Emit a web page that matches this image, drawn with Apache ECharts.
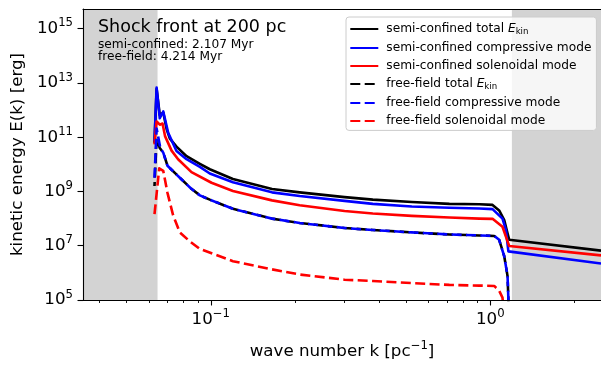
<!DOCTYPE html>
<html>
<head>
<meta charset="utf-8">
<script src="https://cdn.jsdelivr.net/npm/echarts@6/dist/echarts.min.js"></script>
<style>
  html, body { margin: 0; padding: 0; background: #fff; }
  #main { width: 601px; height: 365px; }
</style>
</head>
<body>
<div id="main"></div>
<script>
// wave number k [pc^-1] and E(k) [erg]
const kScTotal = [0.0629, 0.0640, 0.0657, 0.0676, 0.0695, 0.0714, 0.0754, 0.0819, 0.0914, 0.0992, 0.120, 0.1656, 0.208, 0.301, 0.380, 0.524, 0.714, 0.914, 1.019, 1.076, 1.122, 1.153, 1.169, 2.49];
const eScTotal = [6.2e10, 6.0e12, 6.6e11, 8.1e11, 2.0e11, 8.9e10, 4.5e10, 2.0e10, 1.05e10, 6.6e9, 2.9e9, 1.23e9, 9.3e8, 6.2e8, 5.0e8, 4.1e8, 3.5e8, 3.4e8, 3.2e8, 2.0e8, 8.9e7, 2.9e7, 1.66e7, 6.6e6];

const kScComp = [0.0629, 0.0640, 0.0657, 0.0676, 0.0704, 0.0754, 0.0819, 0.0914, 0.0992, 0.120, 0.1656, 0.208, 0.301, 0.380, 0.524, 0.714, 0.914, 1.019, 1.106, 1.138, 1.161, 1.176, 2.49];
const eScComp = [7.1e10, 6.8e12, 5.0e11, 8.9e11, 1.45e11, 3.1e10, 1.55e10, 8.1e9, 4.6e9, 2.2e9, 9.3e8, 6.8e8, 4.5e8, 3.5e8, 2.8e8, 2.5e8, 2.35e8, 2.24e8, 1.0e8, 3.8e7, 6.2e6, 5.8e6, 2.2e6];

const kScSol = [0.0629, 0.0640, 0.0657, 0.0672, 0.0686, 0.0724, 0.0764, 0.0853, 0.1006, 0.120, 0.1656, 0.208, 0.301, 0.380, 0.524, 0.714, 0.914, 1.019, 1.106, 1.153, 1.169, 2.49];
const eScSol = [5.4e10, 3.8e11, 2.9e11, 3.2e11, 1.1e11, 3.2e10, 1.55e10, 5.2e9, 2.1e9, 1.05e9, 4.7e8, 3.1e8, 1.9e8, 1.55e8, 1.26e8, 1.1e8, 1.0e8, 9.8e7, 5.0e7, 1.45e7, 9.8e6, 4.4e6];

const kFfTotal = [0.0629, 0.0640, 0.0657, 0.0676, 0.0700, 0.0775, 0.0848, 0.0914, 0.0992, 0.120, 0.1656, 0.208, 0.301, 0.380, 0.524, 0.714, 0.914, 1.033, 1.076, 1.122, 1.153, 1.161, 1.165];
const eFfTotal = [1.6e9, 8.9e10, 4.0e10, 2.7e10, 8.9e9, 3.2e9, 1.32e9, 7.2e8, 5.0e8, 2.3e8, 1.0e8, 6.9e7, 4.5e7, 3.8e7, 3.1e7, 2.6e7, 2.4e7, 2.3e7, 1.66e7, 4.1e6, 7.6e5, 1.1e5, 1e3];

const kFfComp = [0.0629, 0.0640, 0.0660, 0.0676, 0.0700, 0.0775, 0.0848, 0.0914, 0.0992, 0.120, 0.1656, 0.208, 0.301, 0.380, 0.524, 0.714, 0.914, 1.033, 1.076, 1.122, 1.153, 1.161, 1.165];
const eFfComp = [3.2e9, 2.1e11, 4.0e10, 2.7e10, 8.9e9, 3.2e9, 1.32e9, 7.2e8, 5.0e8, 2.3e8, 1.0e8, 6.9e7, 4.5e7, 3.8e7, 3.1e7, 2.6e7, 2.4e7, 2.3e7, 1.66e7, 4.1e6, 7.6e5, 1.1e5, 1e3];

const kFfSol = [0.0629, 0.0654, 0.0676, 0.0700, 0.0733, 0.0775, 0.0841, 0.0914, 0.120, 0.1656, 0.208, 0.301, 0.380, 0.524, 0.714, 0.914, 1.033, 1.076, 1.106, 1.118];
const eFfSol = [1.45e8, 7.1e9, 5.8e9, 8.9e8, 1.35e8, 3.1e7, 1.45e7, 7.6e6, 2.7e6, 1.35e6, 8.7e5, 5.6e5, 5.0e5, 4.2e5, 3.6e5, 3.4e5, 3.3e5, 2.2e5, 1.23e5, 3.2e4];

const seriesNames = [
  'semi-confined total Ekin',
  'semi-confined compressive mode',
  'semi-confined solenoidal mode',
  'free-field total Ekin',
  'free-field compressive mode',
  'free-field solenoidal mode'
];

// shaded (excluded) k ranges
const shadeLeft = [0.0349, 0.0645];
const shadeRight = [1.195, 2.49];

const xTicksMajor = [0.1, 1];
const xTicksMinor = [0.04, 0.05, 0.06, 0.07, 0.08, 0.09, 0.2, 0.3, 0.4, 0.5, 0.6, 0.7, 0.8, 0.9, 2];
const yTicks = [1e5, 1e7, 1e9, 1e11, 1e13, 1e15];

const FONT = 'DejaVu Sans';

function pairs(k, e) {
  return k.map((v, i) => [v, e[i]]);
}

function powLabel(v) {
  const p = Math.round(Math.log10(v));
  return '{b|10}{s|' + String(p).replace('-', '\u2212') + '}';
}

const powRich = {
  b: {fontSize: 16.7, fontFamily: FONT, color: '#000'},
  s: {fontSize: 11.7, fontFamily: FONT, color: '#000', padding: [0, 0, 11, 0]}
};

function lineSeries(name, k, e, color, dashed, dashOffset) {
  return {
    name: name,
    type: 'line',
    data: pairs(k, e),
    symbol: 'none',
    showSymbol: false,
    z: 3,
    itemStyle: {color: color},
    lineStyle: {
      color: color,
      width: 2.6,
      type: dashed ? [10, 4.4] : 'solid',
      dashOffset: dashOffset || 0,
      join: 'round'
    }
  };
}

const chart = echarts.init(document.getElementById('main'));

const xCommon = {
  type: 'log',
  min: shadeLeft[0],
  max: shadeRight[1],
  splitLine: {show: false},
  z: 5
};

chart.setOption({
  animation: false,
  textStyle: {fontFamily: FONT},
  grid: {left: 83, top: 9, width: 519, height: 295},
  title: {
    text: 'Shock front at 200 pc',
    subtext: 'semi-confined: 2.107 Myr\nfree-field: 4.214 Myr',
    left: 98,
    top: 18,
    padding: 0,
    itemGap: 3,
    textStyle: {fontSize: 17.5, fontWeight: 'normal', color: '#000', fontFamily: FONT},
    subtextStyle: {fontSize: 12.2, color: '#000', fontFamily: FONT, lineHeight: 11.6}
  },
  legend: {
    data: seriesNames,
    orient: 'vertical',
    left: 346,
    top: 17,
    itemWidth: 28,
    itemHeight: 14,
    itemGap: 6,
    padding: [6, 5, 3.4, 3.3],
    backgroundColor: 'rgba(255,255,255,0.8)',
    borderColor: '#cccccc',
    borderWidth: 1,
    borderRadius: 3,
    itemStyle: {opacity: 0},
    lineStyle: {dashOffset: 0},
    formatter: function (name) {
      if (name.endsWith('Ekin')) {
        return '{t|' + name.slice(0, -4) + '}{e|E}{s|kin}';
      }
      return '{t|' + name + '}';
    },
    textStyle: {
      fontSize: 12.2,
      color: '#000',
      fontFamily: FONT,
      padding: [0, 0, 0, 3],
      rich: {
        t: {fontSize: 12.2, fontFamily: FONT, color: '#000'},
        e: {fontSize: 12.2, fontFamily: FONT, color: '#000', fontStyle: 'italic'},
        s: {fontSize: 8.6, fontFamily: FONT, color: '#000', padding: [5, 0, 0, 0]}
      }
    }
  },
  xAxis: [
    Object.assign({}, xCommon, {
      position: 'bottom',
      axisLine: {show: true, lineStyle: {color: '#000', width: 1.1}},
      axisTick: {show: true, customValues: xTicksMajor, length: 5.5, lineStyle: {color: '#000', width: 1.1}},
      axisLabel: {customValues: xTicksMajor, formatter: powLabel, rich: powRich, margin: 8},
      name: '{a|wave number k [pc}{s|\u22121}{a|]}',
      nameLocation: 'middle',
      nameGap: 40,
      nameTextStyle: {
        rich: {
          a: {fontSize: 16.7, fontFamily: FONT, color: '#000'},
          s: {fontSize: 11.7, fontFamily: FONT, color: '#000', padding: [0, 0, 11, 0]}
        }
      }
    }),
    Object.assign({}, xCommon, {
      position: 'bottom',
      axisLine: {show: false},
      axisTick: {show: true, customValues: xTicksMinor, length: 3, lineStyle: {color: '#000', width: 0.9}},
      axisLabel: {show: false}
    }),
    Object.assign({}, xCommon, {
      position: 'top',
      axisLine: {show: true, lineStyle: {color: '#000', width: 1.1}},
      axisTick: {show: false},
      axisLabel: {show: false}
    })
  ],
  yAxis: {
    type: 'log',
    min: 1e5,
    max: 5.33e15,
    z: 5,
    splitLine: {show: false},
    axisLine: {show: true, lineStyle: {color: '#000', width: 1.1}},
    axisTick: {show: true, customValues: yTicks, length: 5.5, lineStyle: {color: '#000', width: 1.1}},
    axisLabel: {customValues: yTicks, formatter: powLabel, rich: powRich, margin: 10},
    name: 'kinetic energy E(k) [erg]',
    nameLocation: 'middle',
    nameGap: 57,
    nameTextStyle: {fontSize: 16.7, color: '#000', fontFamily: FONT}
  },
  series: [
    {
      name: 'shade',
      type: 'line',
      data: [[shadeLeft[0], 1e5]],
      symbol: 'none',
      silent: true,
      z: 1,
      lineStyle: {width: 0, opacity: 0},
      markArea: {
        silent: true,
        itemStyle: {color: '#d3d3d3'},
        data: [
          [{xAxis: shadeLeft[0]}, {xAxis: shadeLeft[1]}],
          [{xAxis: shadeRight[0]}, {xAxis: shadeRight[1]}]
        ]
      }
    },
    lineSeries(seriesNames[0], kScTotal, eScTotal, '#000000', false),
    lineSeries(seriesNames[1], kScComp, eScComp, '#0000ff', false),
    lineSeries(seriesNames[2], kScSol, eScSol, '#ff0000', false),
    lineSeries(seriesNames[3], kFfTotal, eFfTotal, '#000000', true, 6),
    lineSeries(seriesNames[4], kFfComp, eFfComp, '#0000ff', true),
    lineSeries(seriesNames[5], kFfSol, eFfSol, '#ff0000', true)
  ]
});
</script>
</body>
</html>
